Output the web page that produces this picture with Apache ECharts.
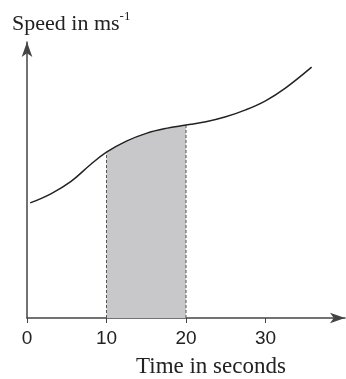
<!DOCTYPE html>
<html>
<head>
<meta charset="utf-8">
<script src="https://cdn.jsdelivr.net/npm/echarts@6/dist/echarts.min.js"></script>
<style>
html, body { margin: 0; padding: 0; background: #fff; }
#main { width: 346px; height: 379px; }
</style>
</head>
<body>
<div id="main"></div>
<script>
// speed curve (time in s, speed in arbitrary units)
var times  = [0.4, 3, 5.5, 8, 10, 12.5, 15, 17.5, 20, 22.5, 25, 27.5, 30, 32.5, 35.8];
var speeds = [41.7, 45.0, 49.4, 55.6, 60.1, 64.1, 66.9, 68.7, 69.9, 71.1, 72.9, 75.4, 78.7, 83.3, 90.9];
var shadeFrom = 10;
var shadeTo = 20;
var tickValues = [0, 10, 20, 30];

var myChart = echarts.init(document.getElementById('main'));

var curve = [];
var shaded = [];
for (var i = 0; i < times.length; i++) {
    curve.push([times[i], speeds[i]]);
    if (times[i] >= shadeFrom && times[i] <= shadeTo) {
        shaded.push([times[i], speeds[i]]);
    }
}
var speedAt10 = speeds[times.indexOf(shadeFrom)];
var speedAt20 = speeds[times.indexOf(shadeTo)];

var option = {
    animation: false,
    title: [
        {
            text: '{a|Speed in ms}{b|-1}',
            left: 7,
            top: 5,
            textStyle: {
                rich: {
                    a: { fontFamily: 'Liberation Serif', fontSize: 22, fontWeight: 'normal', color: '#222', lineHeight: 28 },
                    b: { fontFamily: 'Liberation Serif', fontSize: 13, fontWeight: 'normal', color: '#222', verticalAlign: 'top', lineHeight: 28, padding: [0, 0, 14, 0] }
                }
            }
        },
        {
            text: 'Time in seconds',
            left: 131,
            top: 350,
            textStyle: { fontFamily: 'Liberation Serif', fontSize: 23, fontWeight: 'normal', color: '#222' }
        }
    ],
    grid: { left: 27, right: 1, top: 42, bottom: 61 },
    xAxis: {
        type: 'value',
        min: 0,
        max: 40,
        interval: 10,
        splitLine: { show: false },
        axisLine: {
            onZero: false,
            lineStyle: { color: '#444', width: 1.5 },
            symbol: ['none', 'arrow'],
            symbolSize: [8, 15]
        },
        axisTick: { show: true, customValues: tickValues, length: 5, lineStyle: { color: '#444' } },
        axisLabel: {
            customValues: tickValues,
            margin: 11,
            fontFamily: 'Liberation Sans',
            fontSize: 19,
            color: '#222'
        }
    },
    yAxis: {
        type: 'value',
        min: 0,
        max: 100,
        splitLine: { show: false },
        axisLine: {
            show: true,
            lineStyle: { color: '#444', width: 1.5 },
            symbol: ['none', 'arrow'],
            symbolSize: [8, 15]
        },
        axisTick: { show: false },
        axisLabel: { show: false }
    },
    series: [
        {
            type: 'line',
            data: shaded,
            smooth: 0.4,
            symbol: 'none',
            lineStyle: { width: 0 },
            areaStyle: { color: '#c8c8cb', opacity: 1 },
            z: 1
        },
        {
            type: 'line',
            data: [[shadeFrom, 0], [shadeFrom, speedAt10]],
            symbol: 'none',
            lineStyle: { color: '#555', width: 1, type: [3, 2] },
            z: 2
        },
        {
            type: 'line',
            data: [[shadeTo, 0], [shadeTo, speedAt20]],
            symbol: 'none',
            lineStyle: { color: '#555', width: 1, type: [3, 2] },
            z: 2
        },
        {
            type: 'line',
            data: curve,
            smooth: 0.4,
            symbol: 'none',
            lineStyle: { color: '#222', width: 1.5 },
            z: 3
        }
    ]
};

myChart.setOption(option);
</script>
</body>
</html>
